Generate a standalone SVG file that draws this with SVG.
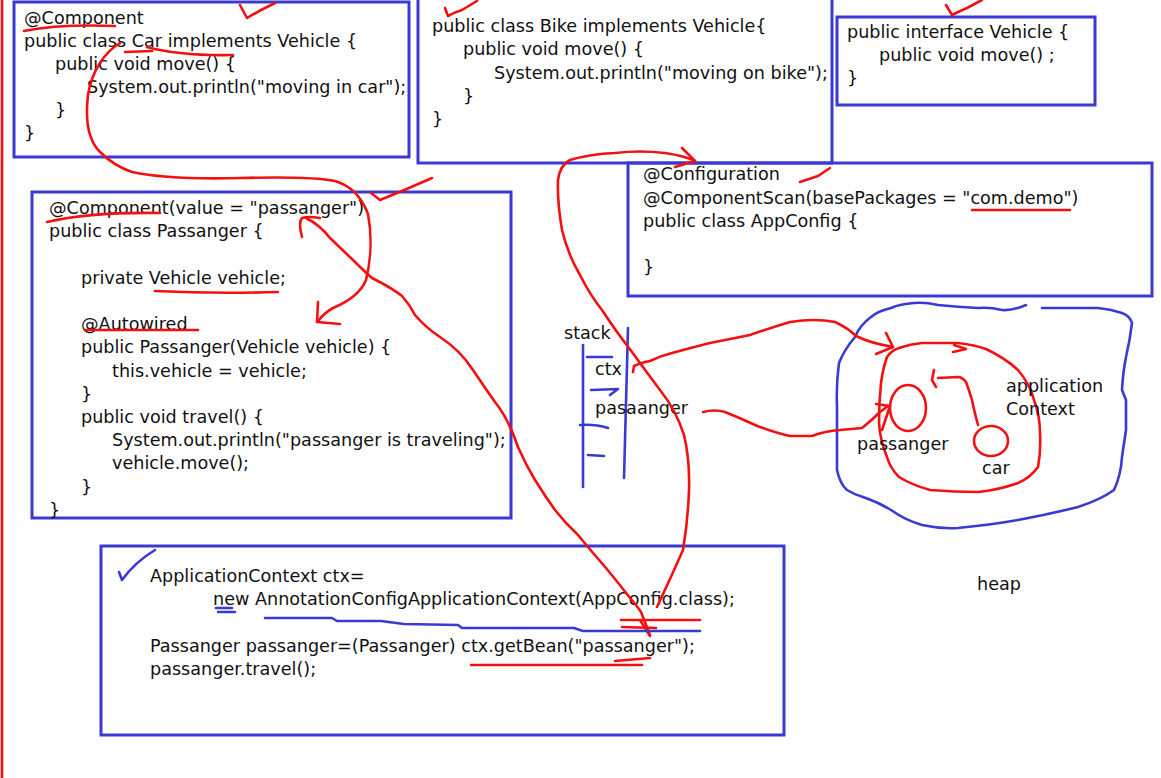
<svg xmlns="http://www.w3.org/2000/svg" width="1161" height="778" viewBox="0 0 1161 778">
  <style>
    .box { fill: none; stroke: #3a3ad2; stroke-width: 3; }
    .code { font-family: "DejaVu Sans", "Liberation Sans", sans-serif; font-size: 17.6px; fill: #111; }
    .ink { fill: none; stroke: #f21010; stroke-width: 2.6; stroke-linecap: round; stroke-linejoin: round; }
    .pen { fill: none; stroke: #3a3ad2; stroke-width: 2.6; stroke-linecap: round; stroke-linejoin: round; }
  </style>
  <rect width="1161" height="778" fill="#fff"/>

  <!-- page margin line -->
  <path class="ink" d="M2,0 L2,778"/>

  <!-- Car class -->
  <g id="car-class">
    <rect class="box" x="14" y="2" width="395" height="155"/>
    <text class="code" x="24" y="24">@Component</text>
    <text class="code" x="24" y="47">public class Car implements Vehicle {</text>
    <text class="code" x="55" y="70">public void move() {</text>
    <text class="code" x="87" y="93">System.out.println("moving in car");</text>
    <text class="code" x="55" y="116">}</text>
    <text class="code" x="24" y="139">}</text>
  </g>

  <!-- Bike class -->
  <g id="bike-class">
    <rect class="box" x="418" y="-2" width="414" height="165"/>
    <text class="code" x="432" y="32">public class Bike implements Vehicle{</text>
    <text class="code" x="463" y="55">public void move() {</text>
    <text class="code" x="494" y="79">System.out.println("moving on bike");</text>
    <text class="code" x="463" y="102">}</text>
    <text class="code" x="432" y="125">}</text>
  </g>

  <!-- Vehicle interface -->
  <g id="vehicle-interface">
    <rect class="box" x="837" y="17" width="258" height="88"/>
    <text class="code" x="847" y="38">public interface Vehicle {</text>
    <text class="code" x="879" y="61">public void move() ;</text>
    <text class="code" x="847" y="84">}</text>
  </g>

  <!-- AppConfig class -->
  <g id="app-config">
    <rect class="box" x="628" y="163" width="524" height="133"/>
    <text class="code" x="643" y="180">@Configuration</text>
    <text class="code" x="643" y="204">@ComponentScan(basePackages = "com.demo")</text>
    <text class="code" x="643" y="227">public class AppConfig {</text>
    <text class="code" x="643" y="273">}</text>
  </g>

  <!-- Passanger class -->
  <g id="passanger-class">
    <rect class="box" x="32" y="192" width="479" height="326"/>
    <text class="code" x="49" y="214">@Component(value = "passanger")</text>
    <text class="code" x="49" y="237">public class Passanger {</text>
    <text class="code" x="81" y="284">private Vehicle vehicle;</text>
    <text class="code" x="81" y="330">@Autowired</text>
    <text class="code" x="81" y="353">public Passanger(Vehicle vehicle) {</text>
    <text class="code" x="112" y="377">this.vehicle = vehicle;</text>
    <text class="code" x="81" y="400">}</text>
    <text class="code" x="81" y="423">public void travel() {</text>
    <text class="code" x="112" y="446">System.out.println("passanger is traveling");</text>
    <text class="code" x="112" y="469">vehicle.move();</text>
    <text class="code" x="81" y="493">}</text>
    <text class="code" x="49" y="516">}</text>
  </g>

  <!-- main program -->
  <g id="main-code">
    <rect class="box" x="101" y="546" width="683" height="189"/>
    <text class="code" x="150" y="582">ApplicationContext ctx=</text>
    <text class="code" x="213" y="605">new AnnotationConfigApplicationContext(AppConfig.class);</text>
    <text class="code" x="150" y="652">Passanger passanger=(Passanger) ctx.getBean("passanger");</text>
    <text class="code" x="150" y="675">passanger.travel();</text>
  </g>

  <!-- stack frame -->
  <g id="stack">
    <path class="pen" d="M583,345 L583,487"/>
    <path class="pen" d="M628,328 L624,478"/>
    <path class="pen" d="M587,357 L612,357"/>
    <path class="pen" d="M591,390 L618,389 L610,395"/>
    <path class="pen" d="M580,425 Q595,424 608,428"/>
    <path class="pen" d="M588,455 L604,456"/>
    <text class="code" x="564" y="339">stack</text>
    <text class="code" x="595" y="375">ctx</text>
    <text class="code" x="595" y="414">pasaanger</text>
  </g>

  <!-- heap -->
  <g id="heap">
    <path class="pen" d="M1026,305 Q1012,311 1002,310 Q990,307 978,308 Q958,307 938,305 Q925,302 914,303 Q900,304 891,308 Q878,311 871,317 Q860,325 855,337 Q844,350 839,363 Q836,385 837,407 L837,470 Q840,484 847,490 Q855,495 863,497 Q878,502 891,510 Q905,520 922,525 Q940,529 958,528 Q990,525 1018,520 Q1050,514 1078,507 Q1100,500 1114,490 Q1121,475 1122,457 Q1124,443 1126,430 L1126,400 L1122,390 Q1123,372 1126,357 Q1130,340 1132,323 Q1130,316 1122,313 Q1110,309 1098,308 L1042,308"/>
    <text class="code" x="977" y="590">heap</text>
  </g>

  <!-- application context -->
  <g id="application-context">
    <path class="ink" d="M899,348 Q910,344 922,343 L958,343 Q975,345 986,349 Q1005,358 1018,370 Q1030,384 1034,400 Q1040,416 1040,433 Q1041,452 1038,467 Q1030,478 1018,483 Q998,490 978,492 Q955,492 930,490 Q912,485 899,477 Q890,468 887,457 Q880,440 879,423 Q879,402 881,383 Q883,368 887,357 Q892,350 899,348"/>
    <path class="ink" d="M953,352 L966,349 L954,345"/>
    <text class="code" x="1006" y="392">application</text>
    <text class="code" x="1006" y="415">Context</text>
  </g>

  <!-- beans -->
  <g id="bean-passanger">
    <ellipse class="ink" cx="908" cy="408" rx="18" ry="23"/>
    <text class="code" x="857" y="450">passanger</text>
  </g>
  <g id="bean-car">
    <ellipse class="ink" cx="991" cy="441" rx="17" ry="15"/>
    <text class="code" x="982" y="474">car</text>
  </g>

  <!-- connectors -->
  <g id="connectors">
    <!-- Car injected into the constructor -->
    <path class="ink" d="M120,43 C105,52 92,70 88,95 C85,120 88,140 100,152 C110,162 120,168 132,172 C160,178 200,179 240,178 C280,177 320,178 335,181 C352,186 362,198 368,214 C372,235 371,260 366,280 C360,295 345,303 333,308 C326,312 322,316 319,320"/>
    <path class="ink" d="M318,302 L317,322 L340,324"/>
    <!-- bean name to getBean -->
    <path class="ink" d="M302,237 Q298,222 302,218 Q308,216 320,218"/>
    <path class="ink" d="M306,218 Q320,225 330,238 L353,260 Q365,272 372,278 Q392,288 402,296 Q410,305 415,315 Q425,327 440,337 Q460,350 473,370 Q485,388 495,402 Q508,418 518,447 Q526,465 535,480 Q545,496 555,510 Q566,524 578,535 Q592,552 606,568 Q620,585 630,598 Q637,606 641,612 L650,635"/>
    <path class="ink" d="M640,620 L650,636"/>
    <!-- AppConfig.class to @Configuration -->
    <path class="ink" d="M657,607 Q672,575 683,550 Q688,520 689,490 Q690,460 684,435 Q676,410 660,390 Q645,370 632,352 Q615,330 602,310 Q590,295 580,275 Q568,255 562,230 Q557,200 558,180 Q560,165 570,160 Q590,154 615,153 Q640,150 665,153 Q685,156 695,161"/>
    <path class="ink" d="M682,148 L695,161 L675,167"/>
    <!-- ctx reference to the context -->
    <path class="ink" d="M633,372 L634,366 Q640,363 650,361 Q660,356 672,353 Q690,348 710,343 Q735,338 750,335 Q770,328 790,322 Q815,318 835,322 Q848,328 856,336 Q870,343 893,347"/>
    <path class="ink" d="M886,333 L893,347 L876,354"/>
    <!-- passanger reference to the bean -->
    <path class="ink" d="M703,412 Q715,409 725,412 Q740,418 755,425 Q775,433 790,436 L812,436 Q825,431 840,430 L862,428 Q872,420 880,412 L888,406"/>
    <path class="ink" d="M876,404 L890,406 L882,430"/>
    <!-- car bean wired into passanger -->
    <path class="ink" d="M978,425 Q974,410 972,400 Q969,390 966,382 Q962,377 958,377 L938,378"/>
    <path class="ink" d="M934,370 L932,380 L936,387"/>
  </g>

  <!-- marks and underlines -->
  <g id="marks">
    <path class="ink" d="M240,5 L247,18 Q257,12 265,8 L275,3"/>
    <path class="ink" d="M445,8 L448,16 Q455,12 462,10 L477,1"/>
    <path class="ink" d="M946,5 L952,15 Q960,11 967,8 L982,0"/>
    <path class="ink" d="M24,31 Q60,24 115,26"/>
    <path class="ink" d="M125,52 L152,51"/>
    <path class="ink" d="M147,47 Q180,56 233,55"/>
    <path class="ink" d="M371,193 L380,200 Q405,190 432,178"/>
    <path class="ink" d="M47,222 Q90,212 160,213"/>
    <path class="ink" d="M155,291 Q215,294 278,292"/>
    <path class="ink" d="M85,330 L198,330"/>
    <path class="ink" d="M800,182 Q812,178 818,176 L830,168"/>
    <path class="ink" d="M972,210 L1070,210"/>
    <path class="ink" d="M621,620 L700,620"/>
    <path class="ink" d="M622,627 L656,628"/>
    <path class="ink" d="M471,665 L642,665"/>
    <path class="ink" d="M615,661 L650,658"/>
    <path class="pen" d="M119,572 L122,580 Q135,562 155,550"/>
    <path class="pen" d="M216,608 L232,608 M218,612 L235,612"/>
    <path class="pen" d="M265,618 L332,618 L337,621 L381,621 L404,624 L458,625 L462,628 L574,628 L583,631 L700,631"/>
  </g>
</svg>
